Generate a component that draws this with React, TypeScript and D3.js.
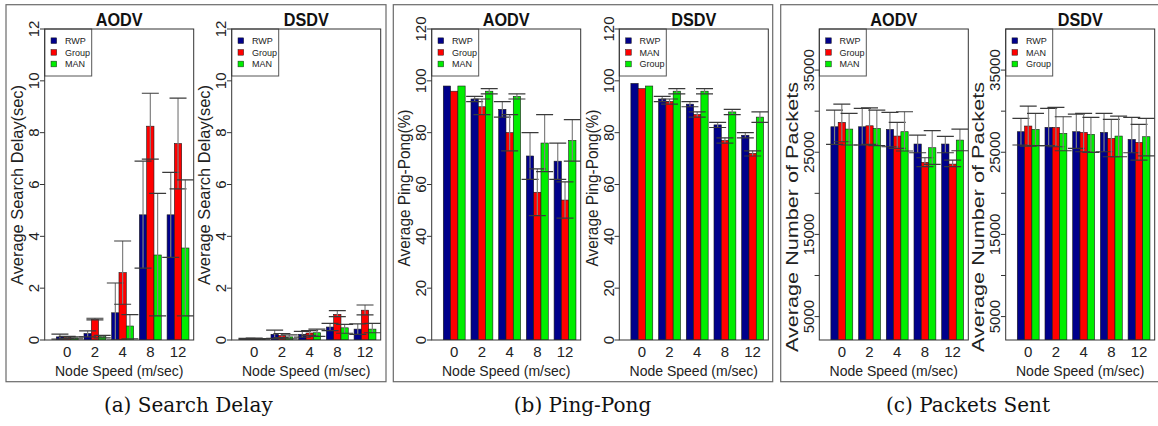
import React from "react";
import * as d3 from "d3";

// ---------------- data ----------------
const speeds = ["0", "2", "4", "8", "12"];

// (a) Search delay (sec) – AODV: RWP, Group, MAN
const delayAodvRwp = [0.12, 0.25, 1.05, 4.83, 4.83];
const delayAodvRwpHi = [0.23, 0.35, 2.2, 6.9, 6.47];
const delayAodvRwpLo = [0.03, 0.12, 0.0, 2.77, 3.19];
const delayAodvGroup = [0.1, 0.8, 2.6, 8.25, 7.58];
const delayAodvGroupHi = [0.14, 0.84, 3.82, 9.52, 9.33];
const delayAodvGroupLo = [0.06, 0.78, 1.38, 6.98, 5.83];
const delayAodvMan = [0.08, 0.13, 0.54, 3.28, 3.55];
const delayAodvManHi = [0.12, 0.18, 0.98, 5.66, 6.18];
const delayAodvManLo = [0.04, 0.08, 0.04, 0.93, 0.93];

// (a) Search delay (sec) – DSDV: RWP, Group, MAN
const delayDsdvRwp = [0.04, 0.22, 0.22, 0.5, 0.42];
const delayDsdvRwpHi = [0.06, 0.38, 0.33, 0.64, 0.62];
const delayDsdvRwpLo = [0.02, 0.06, 0.11, 0.36, 0.22];
const delayDsdvGroup = [0.05, 0.17, 0.27, 0.99, 1.15];
const delayDsdvGroupHi = [0.07, 0.25, 0.36, 1.13, 1.35];
const delayDsdvGroupLo = [0.03, 0.09, 0.18, 0.9, 0.97];
const delayDsdvMan = [0.03, 0.12, 0.28, 0.47, 0.42];
const delayDsdvManHi = [0.05, 0.2, 0.42, 0.6, 0.64];
const delayDsdvManLo = [0.01, 0.04, 0.14, 0.26, 0.28];

// (b) Ping-Pong (%) – AODV: RWP, Group, MAN
const pingAodvRwp = [98, 93, 89, 71, 69];
const pingAodvRwpHi = [98, 94, 92, 80, 76];
const pingAodvRwpLo = [98, 92, 86, 62, 62];
const pingAodvGroup = [96, 90, 80, 57, 54];
const pingAodvGroupHi = [96, 93, 87, 66, 61];
const pingAodvGroupLo = [96, 87, 73, 48, 47];
const pingAodvMan = [98, 96, 94, 76, 77];
const pingAodvManHi = [98, 97, 95, 87, 85];
const pingAodvManLo = [98, 95, 93, 65, 69];

// (b) Ping-Pong (%) – DSDV: RWP, MAN, Group
const pingDsdvRwp = [99, 93, 91, 83, 79];
const pingDsdvRwpHi = [99, 94, 92, 84, 80];
const pingDsdvRwpLo = [99, 92, 90, 82, 78];
const pingDsdvMan = [97, 92, 87, 77, 72];
const pingDsdvManHi = [97, 93, 88, 78, 73];
const pingDsdvManLo = [97, 91, 86, 76, 71];
const pingDsdvGroup = [98, 96, 96, 88, 86];
const pingDsdvGroupHi = [98, 97, 97, 89, 88];
const pingDsdvGroupLo = [98, 95, 95, 87, 84];

// (c) Packets sent – AODV: RWP, Group, MAN
const pktAodvRwp = [28100, 28100, 27780, 26000, 26000];
const pktAodvRwpHi = [30130, 30340, 29850, 27090, 26930];
const pktAodvRwpLo = [25960, 25880, 25670, 24940, 24940];
const pktAodvGroup = [28640, 28220, 26970, 23770, 23560];
const pktAodvGroupHi = [30860, 30410, 28640, 24330, 24050];
const pktAodvGroupLo = [26280, 25960, 25470, 23240, 23240];
const pktAodvMan = [27820, 27900, 27500, 25550, 26480];
const pktAodvManHi = [29730, 30130, 29930, 27620, 27820];
const pktAodvManLo = [25880, 25800, 25150, 23530, 25180];

// (c) Packets sent – DSDV: RWP, MAN, Group
const pktDsdvRwp = [27500, 28030, 27500, 27420, 26560];
const pktDsdvRwpHi = [29120, 30340, 29650, 29730, 29240];
const pktDsdvRwpLo = [25880, 25800, 25470, 25060, 24940];
const pktDsdvMan = [28190, 28030, 27420, 26690, 26200];
const pktDsdvManHi = [30620, 30460, 29730, 29000, 28390];
const pktDsdvManLo = [25750, 25670, 25060, 24450, 24050];
const pktDsdvGroup = [27780, 27300, 27180, 26970, 26890];
const pktDsdvGroupHi = [29730, 29320, 29240, 29400, 29120];
const pktDsdvGroupLo = [25800, 25180, 24990, 24450, 24570];

const delayTicks = [0, 2, 4, 6, 8, 10, 12];
const pingTicks = [0, 20, 40, 60, 80, 100, 120];
const pktTicks = [5000, 10000, 15000, 20000, 25000, 30000, 35000];
const pktTickLabels = [5000, 15000, 25000, 35000];

const captions = ["(a) Search Delay", "(b) Ping-Pong", "(c) Packets Sent"];
const yTitles = ["Average Search Delay(sec)", "Average Ping-Pong(%)", "Average Number of Packets"];
const titles = ["AODV", "DSDV"];

// ---------------- structure ----------------
type Series = { name: string; mean: number[]; hi: number[]; lo: number[] };
type Sub = { title: string; series: Series[] };
type Panel = {
  caption: string;
  ylab: string;
  domain: [number, number];
  ticks: number[];
  labels: number[];
  subs: Sub[];
};

const S = (name: string, mean: number[], hi: number[], lo: number[]): Series => ({ name, mean, hi, lo });

const panels: Panel[] = [
  {
    caption: captions[0],
    ylab: yTitles[0],
    domain: [0, 12],
    ticks: delayTicks,
    labels: delayTicks,
    subs: [
      {
        title: titles[0],
        series: [
          S("RWP", delayAodvRwp, delayAodvRwpHi, delayAodvRwpLo),
          S("Group", delayAodvGroup, delayAodvGroupHi, delayAodvGroupLo),
          S("MAN", delayAodvMan, delayAodvManHi, delayAodvManLo),
        ],
      },
      {
        title: titles[1],
        series: [
          S("RWP", delayDsdvRwp, delayDsdvRwpHi, delayDsdvRwpLo),
          S("Group", delayDsdvGroup, delayDsdvGroupHi, delayDsdvGroupLo),
          S("MAN", delayDsdvMan, delayDsdvManHi, delayDsdvManLo),
        ],
      },
    ],
  },
  {
    caption: captions[1],
    ylab: yTitles[1],
    domain: [0, 120],
    ticks: pingTicks,
    labels: pingTicks,
    subs: [
      {
        title: titles[0],
        series: [
          S("RWP", pingAodvRwp, pingAodvRwpHi, pingAodvRwpLo),
          S("Group", pingAodvGroup, pingAodvGroupHi, pingAodvGroupLo),
          S("MAN", pingAodvMan, pingAodvManHi, pingAodvManLo),
        ],
      },
      {
        title: titles[1],
        series: [
          S("RWP", pingDsdvRwp, pingDsdvRwpHi, pingDsdvRwpLo),
          S("MAN", pingDsdvMan, pingDsdvManHi, pingDsdvManLo),
          S("Group", pingDsdvGroup, pingDsdvGroupHi, pingDsdvGroupLo),
        ],
      },
    ],
  },
  {
    caption: captions[2],
    ylab: yTitles[2],
    domain: [2150, 40000],
    ticks: pktTicks,
    labels: pktTickLabels,
    subs: [
      {
        title: titles[0],
        series: [
          S("RWP", pktAodvRwp, pktAodvRwpHi, pktAodvRwpLo),
          S("Group", pktAodvGroup, pktAodvGroupHi, pktAodvGroupLo),
          S("MAN", pktAodvMan, pktAodvManHi, pktAodvManLo),
        ],
      },
      {
        title: titles[1],
        series: [
          S("RWP", pktDsdvRwp, pktDsdvRwpHi, pktDsdvRwpLo),
          S("MAN", pktDsdvMan, pktDsdvManHi, pktDsdvManLo),
          S("Group", pktDsdvGroup, pktDsdvGroupHi, pktDsdvGroupLo),
        ],
      },
    ],
  },
];

// ---------------- layout / style ----------------
const W = 1158;
const H = 426;
const COLORS = ["#00008b", "#ff0000", "#00ee00"];
const frameLeft = [6, 393.3, 780.7];
const frameRight = [386, 772.7, 1162];
const frameTop = 4.7;
const frameBottom = 381.7;
const boxLefts = [
  [44.7, 231.7],
  [431.7, 619.3],
  [819.3, 1005.7],
];
const BOX_W = 149;
const BOX_TOP = 29;
const BOX_BOTTOM = 340;
const captionX = [188.3, 582.5, 968];
const ylabLen = [200, 157, 270];
const ylabCenter = [185, 188, 217];
const titleLen = [47, 45];
const SANS = "'Liberation Sans', Arial, Helvetica, sans-serif";

function SubPlot({ panel, sub, bx, pi, si }: { panel: Panel; sub: Sub; bx: number; pi: number; si: number }) {
  const y = d3.scaleLinear().domain(panel.domain).range([BOX_BOTTOM, BOX_TOP]);
  const space = 0.8;
  const groupStep = 3 + space;
  const x = d3.scaleLinear().domain([-0.79, 19.65]).range([bx, bx + BOX_W]);
  const barLeft = (g: number, s: number) => space + g * groupStep + s;
  const bars: React.ReactNode[] = [];
  const errs: React.ReactNode[] = [];
  sub.series.forEach((ser, s) => {
    ser.mean.forEach((v, g) => {
      const x0 = x(barLeft(g, s));
      const x1 = x(barLeft(g, s) + 1);
      const yt = y(v);
      bars.push(
        <rect
          key={`b${s}-${g}`}
          x={x0}
          y={yt}
          width={x1 - x0}
          height={BOX_BOTTOM - yt}
          fill={COLORS[s]}
          stroke="#1a1a1a"
          strokeWidth={0.6}
        />
      );
      const hi = ser.hi[g];
      const lo = ser.lo[g];
      if (hi !== lo) {
        const cx = (x0 + x1) / 2;
        errs.push(
          <g key={`e${s}-${g}`}>
            <line x1={cx} x2={cx} y1={y(lo)} y2={y(hi)} stroke="#808080" strokeWidth={1.2} />
            <line x1={cx - 8.5} x2={cx + 8.5} y1={y(hi)} y2={y(hi)} stroke="#3a3a3a" strokeWidth={1.2} />
            <line x1={cx - 8.5} x2={cx + 8.5} y1={y(lo)} y2={y(lo)} stroke="#3a3a3a" strokeWidth={1.2} />
          </g>
        );
      }
    });
  });
  const boxCx = bx + BOX_W / 2;
  return (
    <g>
      <clipPath id={`clip-${pi}-${si}`}>
        <rect x={bx} y={BOX_TOP} width={BOX_W} height={BOX_BOTTOM - BOX_TOP} />
      </clipPath>
      <g clipPath={`url(#clip-${pi}-${si})`}>
        {bars}
        {errs}
      </g>
      {/* legend */}
      <rect x={bx} y={BOX_TOP} width={47} height={47} fill="#fff" stroke="#555" strokeWidth={1} />
      {sub.series.map((ser, s) => {
        const ly = 40.7 + s * 11.65;
        return (
          <g key={`l${s}`}>
            <rect x={bx + 6.3} y={ly - 2.85} width={5.7} height={5.7} fill={COLORS[s]} stroke="#222" strokeWidth={0.5} />
            <text x={bx + 20.3} y={ly + 3.2} fontSize={9} fill="#222" fontFamily={SANS}>
              {ser.name}
            </text>
          </g>
        );
      })}
      {/* box */}
      <rect x={bx} y={BOX_TOP} width={BOX_W} height={BOX_BOTTOM - BOX_TOP} fill="none" stroke="#333" strokeWidth={1} />
      {/* y axis */}
      {panel.ticks.map((t) => (
        <line key={`t${t}`} x1={bx - 4.7} x2={bx} y1={y(t)} y2={y(t)} stroke="#333" strokeWidth={1} />
      ))}
      {panel.labels.map((t) => (
        <text
          key={`tl${t}`}
          transform={`translate(${bx - 5.4},${y(t)}) rotate(-90)`}
          textAnchor="middle"
          fontSize={15}
          fill="#222"
          fontFamily={SANS}
        >
          {t}
        </text>
      ))}
      <text
        transform={`translate(${bx - 21.5},${ylabCenter[pi]}) rotate(-90)`}
        textAnchor="middle"
        fontSize={16}
        fill="#222"
        fontFamily={SANS}
        textLength={ylabLen[pi]}
        lengthAdjust="spacingAndGlyphs"
      >
        {panel.ylab}
      </text>
      {/* x labels */}
      {speeds.map((sp, g) => (
        <text key={`x${g}`} x={x(space + g * groupStep + 1.5)} y={357.3} textAnchor="middle" fontSize={15} fill="#222" fontFamily={SANS}>
          {sp}
        </text>
      ))}
      <text x={boxCx} y={375.5} textAnchor="middle" fontSize={14} fill="#222" fontFamily={SANS}>
        Node Speed (m/sec)
      </text>
      <text
        x={boxCx}
        y={26}
        textAnchor="middle"
        fontSize={19}
        fontWeight="bold"
        fill="#111"
        fontFamily={SANS}
        textLength={titleLen[si]}
        lengthAdjust="spacingAndGlyphs"
      >
        {sub.title}
      </text>
    </g>
  );
}

export default function App() {
  return (
    <div style={{ position: "absolute", left: 0, top: 0 }}>
      <svg width={W} height={H} style={{ display: "block", background: "#fff" }}>
        <rect width={W} height={H} fill="#fff" />
        {panels.map((p, pi) => (
          <g key={pi}>
            <rect
              x={frameLeft[pi]}
              y={frameTop}
              width={frameRight[pi] - frameLeft[pi]}
              height={frameBottom - frameTop}
              fill="none"
              stroke="#6a6a6a"
              strokeWidth={1.2}
            />
            {p.subs.map((sub, si) => (
              <SubPlot key={si} panel={p} sub={sub} bx={boxLefts[pi][si]} pi={pi} si={si} />
            ))}
            <text x={captionX[pi]} y={412} textAnchor="middle" fontSize={20} fill="#111" fontFamily="'DejaVu Serif', 'Liberation Serif', serif">
              {p.caption}
            </text>
          </g>
        ))}
      </svg>
    </div>
  );
}
